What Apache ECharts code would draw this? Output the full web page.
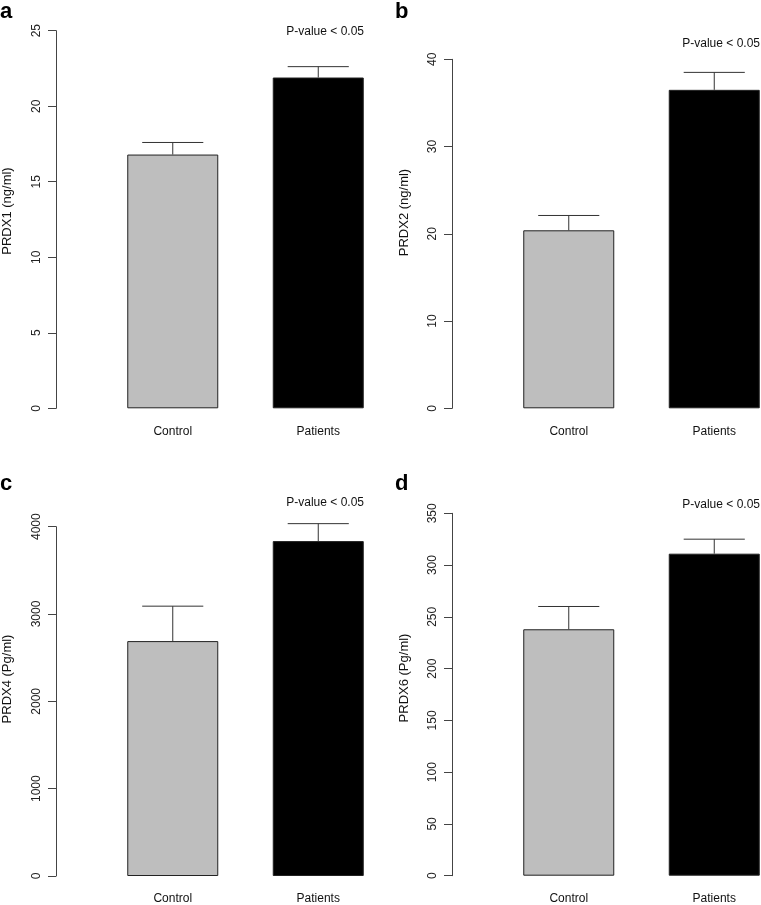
<!DOCTYPE html>
<html>
<head>
<meta charset="utf-8">
<script src="https://cdn.jsdelivr.net/npm/echarts@6/dist/echarts.min.js"></script>
<style>
html,body{margin:0;padding:0;background:#fff;}
#chart{width:761px;height:905px;}
</style>
</head>
<body>
<div id="chart"></div>
<script>
// ---- data ----
const categories = ['Control', 'Patients'];
const panelLetters = ['a', 'b', 'c', 'd'];
const yTitles = ['PRDX1 (ng/ml)', 'PRDX2 (ng/ml)', 'PRDX4 (Pg/ml)', 'PRDX6 (Pg/ml)'];
const pValueText = 'P-value < 0.05';
const prdx1Mean = [16.8, 21.9];
const prdx1Err  = [0.8, 0.72];
const prdx2Mean = [20.4, 36.5];
const prdx2Err  = [1.7, 2.0];
const prdx4Mean = [2690, 3835];
const prdx4Err  = [400, 200];
const prdx6Mean = [238, 311];
const prdx6Err  = [22, 14];
const yMax      = [25, 40, 4000, 350];
const yInterval = [5, 10, 1000, 50];
const barColors = ['#bebebe', '#000000'];

const means = [prdx1Mean, prdx2Mean, prdx4Mean, prdx6Mean];
const errs  = [prdx1Err, prdx2Err, prdx4Err, prdx6Err];

// ---- layout ----
const FONT = '"Liberation Sans", Arial, sans-serif';
const grids = [
  {left: 100, width: 291, top: 30.7, bottom: 496.7},
  {left: 496, width: 291, top: 59.3, bottom: 496.7},
  {left: 100, width: 291, top: 526.7, bottom: 29},
  {left: 496, width: 291, top: 513.3, bottom: 29.3}
];
const titlePos = [[7.5, 211], [404, 212.5], [7.5, 679], [404, 678]];
const letterPos = [[0, 23], [395, 23], [0, 495], [395, 495]];
const pPos = [[364, 32], [760, 43.3], [364, 502.3], [760, 504.3]];

const chart = echarts.init(document.getElementById('chart'), null, {renderer: 'canvas'});

const option = {
  backgroundColor: '#ffffff',
  animation: false,
  grid: grids.map(g => Object.assign({containLabel: false, outerBoundsMode: 'none'}, g)),
  xAxis: grids.map((g, i) => ({
    type: 'category', gridIndex: i, data: categories,
    axisLine: {show: false}, axisTick: {show: false},
    axisLabel: {fontFamily: FONT, fontSize: 12, color: '#111', margin: 17}
  })),
  yAxis: grids.map((g, i) => ({
    type: 'value', gridIndex: i, min: 0, max: yMax[i], interval: yInterval[i],
    offset: 44,
    axisLine: {show: true, lineStyle: {color: '#444', width: 1}},
    axisTick: {show: true, inside: false, length: 8, lineStyle: {color: '#444', width: 1}},
    axisLabel: {fontFamily: FONT, fontSize: 12, color: '#222', rotate: 90, margin: 13,
                formatter: v => String(v)},
    splitLine: {show: false}
  })),
  series: [],
  graphic: []
};

for (let i = 0; i < 4; i++) {
  option.series.push({
    type: 'bar', xAxisIndex: i, yAxisIndex: i, barWidth: 91,
    data: means[i].map((v, k) => ({
      value: v,
      itemStyle: {color: barColors[k], borderColor: '#222', borderWidth: 1}
    })),
    z: 2
  });
  option.series.push({
    type: 'custom', xAxisIndex: i, yAxisIndex: i, z: 3,
    data: means[i].map((v, k) => [k, v, v + errs[i][k]]),
    renderItem: function (params, api) {
      const base = api.coord([api.value(0), api.value(1)]);
      const top = api.coord([api.value(0), api.value(2)]);
      const half = api.size([1, 0])[0] * 0.21;
      const st = {stroke: '#333', lineWidth: 1, fill: null};
      return {
        type: 'group',
        children: [
          {type: 'line', shape: {x1: base[0], y1: base[1], x2: top[0], y2: top[1]}, style: st},
          {type: 'line', shape: {x1: top[0] - half, y1: top[1], x2: top[0] + half, y2: top[1]}, style: st}
        ]
      };
    }
  });
  option.graphic.push({
    type: 'text', x: titlePos[i][0], y: titlePos[i][1], rotation: Math.PI / 2,
    style: {text: yTitles[i], fontFamily: FONT, fontSize: 13, fill: '#111', align: 'center', verticalAlign: 'middle'}
  });
  option.graphic.push({
    type: 'text', x: letterPos[i][0], y: letterPos[i][1],
    style: {text: panelLetters[i], fontFamily: FONT, fontSize: 22, fontWeight: 'bold', fill: '#000', align: 'left', verticalAlign: 'bottom'}
  });
  option.graphic.push({
    type: 'text', x: pPos[i][0], y: pPos[i][1],
    style: {text: pValueText, fontFamily: FONT, fontSize: 12, fill: '#111', align: 'right', verticalAlign: 'middle'}
  });
}

chart.setOption(option);
</script>
</body>
</html>
